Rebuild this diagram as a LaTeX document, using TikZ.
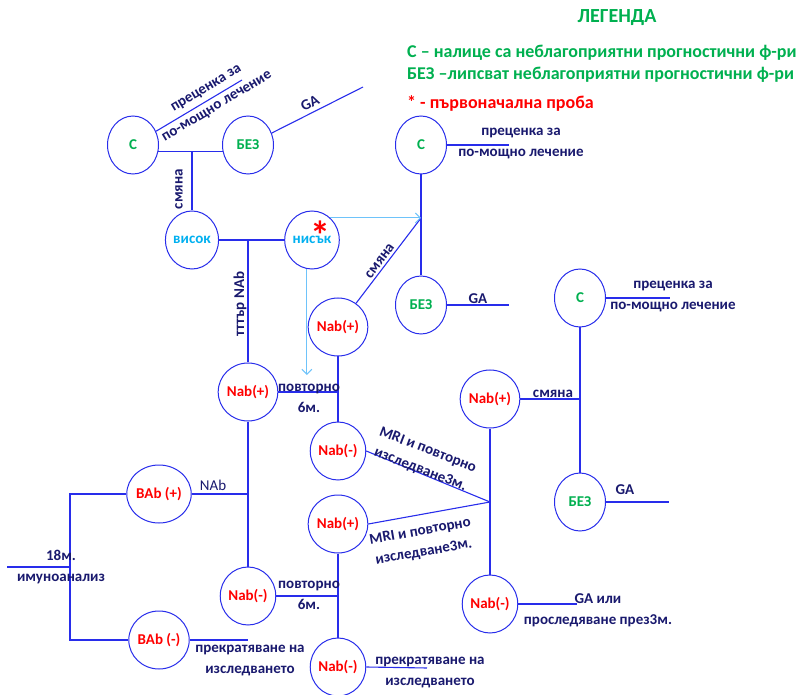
\documentclass[tikz,border=0pt]{standalone}
\usepackage{fontspec}
\setmainfont{Carlito}
\usetikzlibrary{shapes.geometric, arrows.meta, calc}

\definecolor{ringblue}{RGB}{40,45,235}
\definecolor{navytext}{RGB}{25,25,110}
\definecolor{goodgreen}{RGB}{0,176,80}
\definecolor{alertred}{RGB}{255,0,0}
\definecolor{skytext}{RGB}{0,176,240}
\definecolor{skyline}{RGB}{110,195,250}

\begin{document}
\begin{tikzpicture}[
    x=1pt, y=-1pt,
    every node/.style={font=\bfseries\fontsize{15}{21}\selectfont, inner sep=1pt},
    state/.style={
        ellipse, draw=ringblue, line width=1pt,
        minimum width=51pt, minimum height=58pt,
        inner sep=0pt, fill=white
    },
    note/.style={text=navytext, align=center},
    legend/.style={font=\bfseries\fontsize{18}{21}\selectfont, anchor=west},
    link/.style={draw=ringblue, line width=1.1pt},
    hint/.style={-{Straight Barb[length=5pt,width=10pt]}, draw=skyline, line width=1pt}
]
\useasboundingbox (0,0) rectangle (804,695);

% Legend
\node[legend, anchor=center, text=goodgreen, font=\bfseries\fontsize{20}{23}\selectfont] (lgtitle) at (617,18) {ЛЕГЕНДА};
\node[legend, text=goodgreen] (lg1) at (406,53) {С – налице са неблагоприятни прогностични ф-ри};
\node[legend, text=goodgreen] (lg2) at (406,75) {БЕЗ –липсват неблагоприятни прогностични ф-ри};
\node[legend, text=alertred] (lg3) at (406,103) {* - първоначална проба};

% Top left branch
\node[state, text=goodgreen] (c1) at (133,145) {С};
\node[state, text=goodgreen] (bez1) at (248,145) {БЕЗ};
\node[state, text=skytext] (visok) at (192,240) {висок};
\node[state, text=skytext] (nisak) at (312,240) {нисък};
\node[text=alertred, font=\bfseries\fontsize{40}{40}\selectfont, inner sep=0pt] (star) at (320,235) {*};

\coordinate (j1) at (192,152);
\coordinate (j2) at (248,240);
\coordinate (e1) at (242,80);
\coordinate (e2) at (363,87);

\draw[link] (c1.-15) -- (bez1.195);
\draw[link] (j1) -- (visok);
\draw[link] (visok) -- (nisak);
\draw[link] (c1) -- (e1);
\draw[link] (bez1) -- (e2);

\node[note, rotate=31] (t1) at (212,98) {преценка за\\по-мощно лечение};
\node[note, rotate=27] (t2) at (310,103) {GA};
\node[note, rotate=90] (t3) at (179,189) {смяна};
\node[note, rotate=90] (t4) at (240,304) {тттър NAb};

% Middle branch
\node[state, text=goodgreen] (c2) at (421,145) {С};
\node[state, text=goodgreen] (bez2) at (421,305) {БЕЗ};
\node[state, text=alertred] (nabpM) at (338,327) {Nab(+)};
\node[state, text=alertred] (nabpL) at (248,392) {Nab(+)};
\node[state, text=alertred] (nabmM) at (338,451) {Nab(-)};
\node[state, text=alertred] (nabpM2) at (338,524) {Nab(+)};
\node[state, text=alertred] (nabmL) at (248,596) {Nab(-)};
\node[state, text=alertred] (nabmB) at (338,667) {Nab(-)};

\coordinate (j3) at (421,218);
\coordinate (j4) at (338,392);
\coordinate (j7) at (248,494);
\coordinate (j8) at (338,596);
\coordinate (e3) at (509,145);
\coordinate (e4) at (509,305);
\coordinate (e5) at (427,668);
\coordinate (tip1) at (307,375);

\draw[link] (c2) -- (bez2);
\draw[link] (c2.east) -- (e3);
\draw[link] (bez2.east) -- (e4);
\draw[link] (nabpM) -- (j3);
\draw[link] (j2) -- (nabpL);
\draw[link] (nabpM) -- (nabmM);
\draw[link] (nabpL.east) -- (j4);
\draw[link] (nabpL) -- (nabmL);
\draw[link] (nabmL.east) -- (j8);
\draw[link] (nabpM2) -- (nabmB);
\draw[link] (nabmB.east) -- (e5);

\draw[hint] (nisak.50) -- (nisak.50 -| j3);
\draw[hint] (nisak.260) -- (nisak.260 |- tip1);

\node[note] (t5) at (521,144) {преценка за\\по-мощно лечение};
\node[note] (t6) at (478,299) {GA};
\node[note, rotate=53] (t7) at (380,261) {смяна};
\node[note] (t8) at (309,398) {повторно\\6м.};
\node[note] (t9) at (309,595) {повторно\\6м.};
\node[note] (t10) at (430,673) {прекратяване на\\изследването};

% Right branch
\node[state, text=alertred] (nabpR) at (490,399) {Nab(+)};
\node[state, text=alertred] (nabmR) at (490,604) {Nab(-)};
\node[state, text=goodgreen] (c3) at (580,298) {С};
\node[state, text=goodgreen] (bez3) at (580,502) {БЕЗ};

\coordinate (j5) at (490,502);
\coordinate (j6) at (580,399);
\coordinate (e6) at (670,298);
\coordinate (e7) at (669,502);
\coordinate (e8) at (577,604);

\draw[link] (nabmM.east) -- (j5);
\draw[link] (nabpM2.east) -- (j5);
\draw[link] (nabpR) -- (nabmR);
\draw[link] (nabpR.east) -- (j6);
\draw[link] (c3) -- (bez3);
\draw[link] (c3.east) -- (e6);
\draw[link] (bez3.east) -- (e7);
\draw[link] (nabmR.east) -- (e8);

\node[note, rotate=-21] (t11) at (424,460) {MRI и повторно\\изследване3м.};
\node[note, rotate=10] (t12) at (422,542) {MRI и повторно\\изследване3м.};
\node[note] (t13) at (553,394) {смяна};
\node[note] (t14) at (673,297) {преценка за\\по-мощно лечение};
\node[note] (t15) at (625,490) {GA};
\node[note] (t16) at (598,610) {GA или\\проследяване през3м.};

% Bottom left branch
\node[state, text=alertred] (babp) at (159,494) {BAb (+)};
\node[state, text=alertred] (babm) at (159,640) {BAb (-)};

\coordinate (k0) at (70,567);
\coordinate (k1) at (70,494);
\coordinate (k2) at (70,640);
\coordinate (s0) at (7,567);
\coordinate (e9) at (248,640);

\draw[link] (babp) -- (k1) -- (k2) -- (babm);
\draw[link] (s0) -- (k0);
\draw[link] (babp.east) -- (j7);
\draw[link] (babm.east) -- (e9);

\node[note] (t17) at (61,567) {18м.\\имуноанализ};
\node[note, font=\fontsize{15}{18}\selectfont] (t18) at (213,485) {NAb};
\node[note] (t19) at (250,661) {прекратяване на\\изследването};

\end{tikzpicture}
\end{document}
